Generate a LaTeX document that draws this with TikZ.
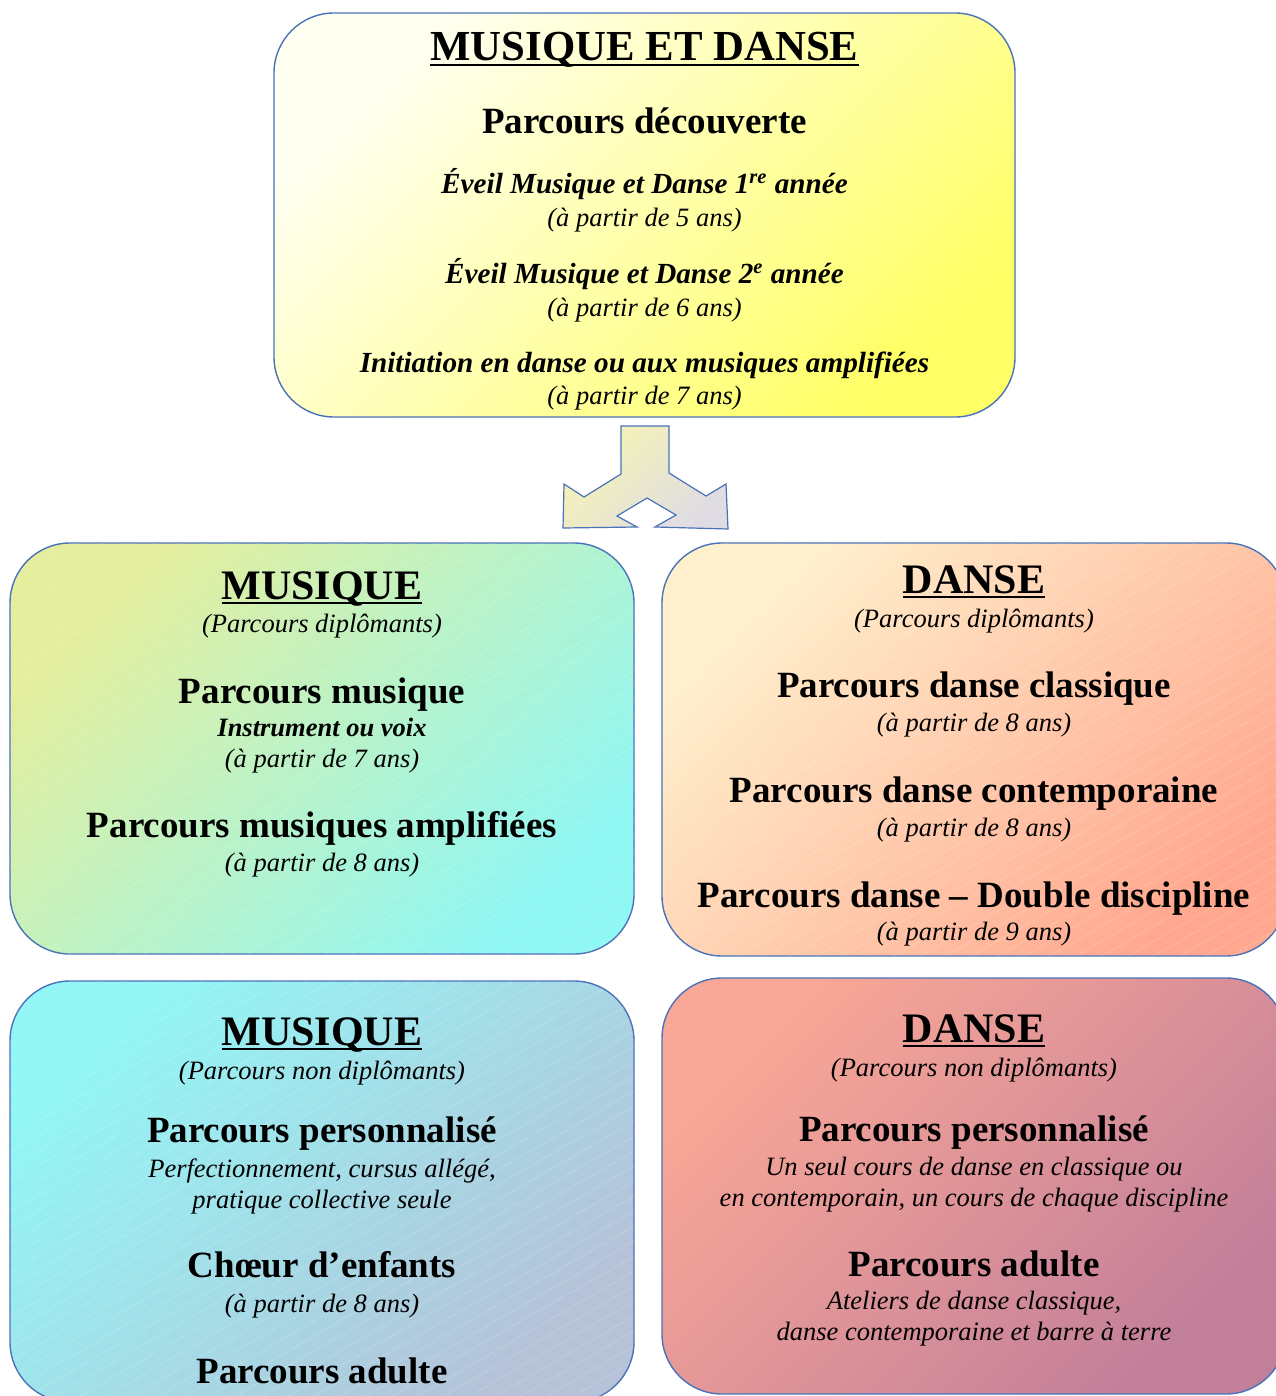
\documentclass[tikz,border=0pt]{standalone}
\usepackage{fontspec}
\setmainfont{Liberation Serif}
\usetikzlibrary{patterns.meta}

\definecolor{boxline}{HTML}{4A72B8}
\definecolor{topA}{HTML}{FFFFF2}
\definecolor{topB}{HTML}{FFFF66}
\definecolor{mlA}{HTML}{E4EE9C}
\definecolor{mlB}{HTML}{8FF7F4}
\definecolor{mrA}{HTML}{FFF0CC}
\definecolor{mrB}{HTML}{FFA88F}
\definecolor{blA}{HTML}{92F6F6}
\definecolor{blB}{HTML}{B5C2D8}
\definecolor{brA}{HTML}{F9A796}
\definecolor{brB}{HTML}{C27F9A}
\definecolor{arrA}{HTML}{F6F4B4}
\definecolor{arrB}{HTML}{DFDCE4}

\newsavebox\ulbox
\newcommand\ulin[1]{\sbox\ulbox{#1}\rlap{\rule[-2.7pt]{\wd\ulbox}{1.3pt}}\usebox\ulbox}

\begin{document}
\begin{tikzpicture}[x=0.5pt, y=-0.5pt,
    box/.style={draw=boxline, line width=0.7pt, rounded corners=30pt, inner sep=0pt},
    stripes/.style={postaction={pattern={Lines[angle=30, distance=6.5pt, line width=0.4pt]}, pattern color=white, fill opacity=0.3}},
    txt/.style={anchor=base, inner sep=0pt},
    bigtitle/.style={txt, font=\fontsize{21.4}{26}\selectfont\bfseries},
    head/.style={txt, font=\fontsize{21}{25}\selectfont\bfseries},
    parc/.style={txt, font=\fontsize{18.5}{22}\selectfont\bfseries},
    bital/.style={txt, font=\fontsize{14.6}{17}\selectfont\bfseries\itshape},
    ital/.style={txt, font=\fontsize{13.25}{16}\selectfont\itshape},
    bsmall/.style={txt, font=\fontsize{13.25}{16}\selectfont\bfseries\itshape}]
  \useasboundingbox (0,0) rectangle (1275,1396);

  % boxes
  \node[box, minimum width=370.5pt, minimum height=202pt, top color=topA, bottom color=topB, shading angle=45] (decouverte) at (644.5,215) {};
  \node[box, minimum width=312pt, minimum height=205.5pt, top color=mlA, bottom color=mlB, shading angle=45, stripes] (musdipl) at (322,748.5) {};
  \node[box, minimum width=312pt, minimum height=206.5pt, top color=mrA, bottom color=mrB, shading angle=45, stripes] (dansedipl) at (974,749.5) {};
  \node[box, minimum width=312pt, minimum height=210.5pt, top color=blA, bottom color=blB, shading angle=45, stripes] (musnondipl) at (322,1191.5) {};
  \node[box, minimum width=312pt, minimum height=208pt, top color=brA, bottom color=brB, shading angle=45] (dansenondipl) at (974,1186) {};

  % split arrow
  \draw[boxline, line width=0.6pt, top color=arrA, bottom color=arrB, shading angle=45]
    (621,426) -- (669,426) -- (669,473) -- (706,496) -- (726,484) -- (728,529) -- (655,527)
    -- (676,515) -- (647,498) -- (617,516) -- (637,527) -- (563,528) -- (564,484)
    -- (584,497) -- (621,474) -- cycle;

  % top box
  \node[bigtitle] (mdtitle) at (644.5,61) {\ulin{MUSIQUE ET DANSE}};
  \node[parc] (pdecouv) at (644.5,134) {Parcours découverte};
  \node[bital] (eveilun) at (644.5,194) {Éveil Musique et Danse 1\textsuperscript{re} année};
  \node[ital] (agecinq) at (644.5,227) {(à partir de 5 ans)};
  \node[bital] (eveildeux) at (644.5,284) {Éveil Musique et Danse 2\textsuperscript{e} année};
  \node[ital] (agesix) at (644.5,316) {(à partir de 6 ans)};
  \node[bital] (initiation) at (644.5,372) {Initiation en danse ou aux musiques amplifiées};
  \node[ital] (agesept) at (644.5,404) {(à partir de 7 ans)};

  % musique, diplomants
  \node[head] (mdtitre) at (322,599) {\ulin{MUSIQUE}};
  \node[ital] (mdsous) at (322,632) {(Parcours diplômants)};
  \node[parc] (pmusique) at (322,703) {Parcours musique};
  \node[bsmall] (instru) at (322,736) {Instrument ou voix};
  \node[ital] (pmusage) at (322,767) {(à partir de 7 ans)};
  \node[parc] (pampli) at (322,837) {Parcours musiques amplifiées};
  \node[ital] (pampliage) at (322,871) {(à partir de 8 ans)};

  % danse, diplomants
  \node[head] (ddtitre) at (974,593) {\ulin{DANSE}};
  \node[ital] (ddsous) at (974,627) {(Parcours diplômants)};
  \node[parc] (pclass) at (974,697) {Parcours danse classique};
  \node[ital] (pclassage) at (974,731) {(à partir de 8 ans)};
  \node[parc] (pcontemp) at (974,802) {Parcours danse contemporaine};
  \node[ital] (pcontempage) at (974,836) {(à partir de 8 ans)};
  \node[parc] (pdouble) at (974,907) {Parcours danse -- Double discipline};
  \node[ital] (pdoubleage) at (974,940) {(à partir de 9 ans)};

  % musique, non diplomants
  \node[head] (mntitre) at (322,1045) {\ulin{MUSIQUE}};
  \node[ital] (mnsous) at (322,1079) {(Parcours non diplômants)};
  \node[parc] (mnperso) at (322,1142) {Parcours personnalisé};
  \node[ital] (mnpersoa) at (322,1177) {Perfectionnement, cursus allégé,};
  \node[ital] (mnpersob) at (322,1208) {pratique collective seule};
  \node[parc] (choeur) at (322,1277) {Chœur d’enfants};
  \node[ital] (choeurage) at (322,1312) {(à partir de 8 ans)};
  \node[parc] (mnadulte) at (322,1383) {Parcours adulte};

  % danse, non diplomants
  \node[head] (dntitre) at (974,1042) {\ulin{DANSE}};
  \node[ital] (dnsous) at (974,1076) {(Parcours non diplômants)};
  \node[parc] (dnperso) at (974,1141) {Parcours personnalisé};
  \node[ital] (dnpersoa) at (974,1175) {Un seul cours de danse en classique ou};
  \node[ital] (dnpersob) at (974,1206) {en contemporain, un cours de chaque discipline};
  \node[parc] (dnadulte) at (974,1276) {Parcours adulte};
  \node[ital] (dnadultea) at (974,1309) {Ateliers de danse classique,};
  \node[ital] (dnadulteb) at (974,1340) {danse contemporaine et barre à terre};
\end{tikzpicture}
\end{document}
